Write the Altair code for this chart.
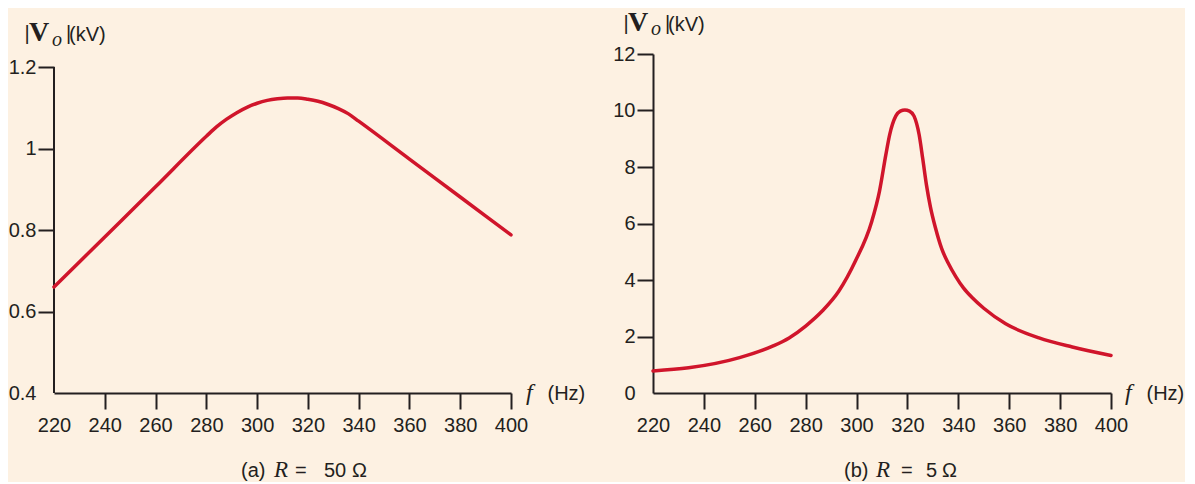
import altair as alt
import pandas as pd

# ---- data ----
f_a = [220, 240, 260, 280, 284, 288, 292, 296, 300, 304, 308, 312, 316, 320, 324, 328, 332, 336, 340,
       360, 380, 400]
v_a = [0.66, 0.783, 0.906, 1.030, 1.053, 1.072, 1.088, 1.101, 1.111, 1.118, 1.122, 1.124, 1.124, 1.121,
       1.116, 1.108, 1.098, 1.085, 1.067, 0.974, 0.881, 0.788]

f_b = [220, 234, 254, 267, 273.5, 280, 286.5, 293, 299.5, 306, 309, 311.5, 313, 315.4, 317.2, 319,
       320.8, 322.6, 324.6, 326, 327.5, 329, 331, 333.5, 336, 339, 342, 345.5, 350, 358.6, 371.7, 384.8, 400]
v_b = [0.78, 0.89, 1.25, 1.66, 1.95, 2.37, 2.90, 3.60, 4.66, 6.08, 7.14, 8.43, 9.14, 9.80, 9.98, 10.02,
       9.98, 9.80, 9.14, 8.3, 7.35, 6.6, 5.85, 5.1, 4.6, 4.12, 3.72, 3.37, 3.0, 2.45, 1.95, 1.63, 1.33]

x_ticks = [220, 240, 260, 280, 300, 320, 340, 360, 380, 400]
ya_ticks = [0.4, 0.6, 0.8, 1.0, 1.2]
yb_ticks = [0, 2, 4, 6, 8, 10, 12]
captions = ["(a)", "(b)"]
r_values = ["50", "5"]

BG = "#FDF1E2"
RED = "#D0152B"
INK = "#231F20"
SANS = "Liberation Sans"
SERIF = "Liberation Serif"

W_A, W_B, H = 457, 458, 339


def x_axis():
    return alt.Axis(values=x_ticks, title=None, labelFont=SANS, labelFontSize=20, labelColor=INK,
                    labelPadding=6, labelFlush=False, labelOverlap=False, tickSize=16, tickWidth=2,
                    tickColor=INK, tickOpacity={"condition": {"test": "datum.value == 220", "value": 0}, "value": 1},
                    domainColor=INK, domainWidth=2, grid=False)


def y_axis(vals, low, domain=True):
    return alt.Axis(values=vals, title=None, format="~g", labelFont=SANS, labelFontSize=20, labelColor=INK,
                    labelPadding=2, labelFlush=False, labelOverlap=False, tickSize=16, tickWidth=2,
                    tickColor=INK, tickOpacity={"condition": {"test": f"datum.value == {low}", "value": 0}, "value": 1},
                    domain=domain, domainColor=INK, domainWidth=2, grid=False)


def txt(s, x, y, size=20, font=SANS, style="normal", weight="normal"):
    return alt.Chart(pd.DataFrame({"t": [s]})).mark_text(
        text=s, font=font, fontSize=size, fontStyle=style, fontWeight=weight,
        align="left", baseline="alphabetic", color=INK
    ).encode(x=alt.value(x), y=alt.value(y))


def annotations(title_base, sub_base, cap, rv, xs):
    return [
        txt("|", -29.5, title_base - 1),
        txt("V", -25, title_base, size=28, font=SERIF, weight="bold"),
        txt("o", -2, sub_base, size=20, font=SERIF, style="italic"),
        txt("|", 12, title_base - 1),
        txt("(kV)", 15, title_base),
        txt("f", 472, 346, size=24, font=SERIF, style="italic"),
        txt("(Hz)", 493.5, 346),
        txt(cap, xs[0], 423),
        txt("R", xs[1], 423, size=23, font=SERIF, style="italic"),
        txt("=", xs[2], 423),
        txt(rv, xs[3], 423),
        txt("Ω", xs[4], 423),
    ]


# ---- panel (a) ----
df_a = pd.DataFrame({"f": f_a, "v": v_a})
xa = alt.X("f:Q", scale=alt.Scale(domain=[220, 400], nice=False, zero=False), axis=x_axis())
ya_scale = alt.Scale(domain=[0.4, 0.4 + 0.8 * H / 326], nice=False, zero=False)
line_a = alt.Chart(df_a).mark_line(color=RED, strokeWidth=3.5, interpolate="monotone", strokeCap="round").encode(
    x=xa, y=alt.Y("v:Q", scale=ya_scale, axis=y_axis(ya_ticks, 0.4, domain=False))
)
yaxis_line = alt.Chart(pd.DataFrame({"f": [220], "v": [0.4], "v2": [1.2]})).mark_rule(
    color=INK, strokeWidth=2
).encode(x=xa, y=alt.Y("v:Q", scale=ya_scale, axis=y_axis(ya_ticks, 0.4, domain=False)), y2="v2:Q")

panel_a = alt.layer(
    yaxis_line, line_a,
    *annotations(-13, -8, captions[0], r_values[0], [187, 220, 241, 270, 298])
).properties(width=W_A, height=H)

# ---- panel (b) ----
df_b = pd.DataFrame({"f": f_b, "v": v_b})
line_b = alt.Chart(df_b).mark_line(color=RED, strokeWidth=3.5, interpolate="monotone", strokeCap="round").encode(
    x=alt.X("f:Q", scale=alt.Scale(domain=[220, 400], nice=False, zero=False), axis=x_axis()),
    y=alt.Y("v:Q", scale=alt.Scale(domain=[0, 12], nice=False, zero=False), axis=y_axis(yb_ticks, 0)),
)
panel_b = alt.layer(
    line_b,
    *annotations(-23, -19.5, captions[1], r_values[1], [191, 223, 248, 273, 289])
).properties(width=W_B, height=H)

chart = alt.hconcat(panel_a, panel_b, spacing=26).configure_view(stroke=None).properties(
    background=BG, padding={"left": 0, "top": 1, "right": 0, "bottom": 0}
)

chart.save("out.html", embed_options={"renderer": "svg", "actions": False})
